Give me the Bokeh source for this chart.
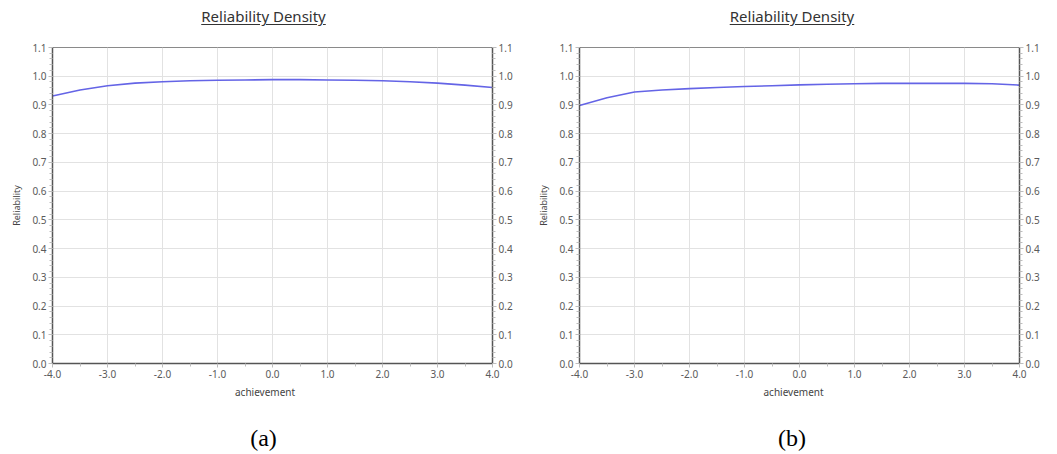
from bokeh.plotting import figure
from bokeh.layouts import row, column
from bokeh.models import (LinearAxis, FixedTicker, Title, Div,
                          PrintfTickFormatter)
from bokeh.embed import file_html
from bokeh.resources import INLINE

# Reliability curves over the achievement scale
theta = [-4.0, -3.5, -3.0, -2.5, -2.0, -1.5, -1.0, -0.5, 0.0,
         0.5, 1.0, 1.5, 2.0, 2.5, 3.0, 3.5, 4.0]
rel_a = [0.931, 0.952, 0.967, 0.976, 0.981, 0.984, 0.986, 0.987, 0.988,
         0.988, 0.987, 0.986, 0.984, 0.981, 0.976, 0.969, 0.961]
rel_b = [0.898, 0.925, 0.945, 0.952, 0.957, 0.961, 0.964, 0.967, 0.970,
         0.972, 0.974, 0.975, 0.975, 0.975, 0.975, 0.974, 0.969]

x_ticks = [-4, -3, -2, -1, 0, 1, 2, 3, 4]
y_ticks = [0.0, 0.1, 0.2, 0.3, 0.4, 0.5, 0.6, 0.7, 0.8, 0.9, 1.0, 1.1]
y_minor = [round(i * 0.02, 2) for i in range(0, 56)]
x_minor = [-3.5, -2.5, -1.5, -0.5, 0.5, 1.5, 2.5, 3.5]

heading = "Reliability Density"
x_title = "achievement"
y_title = "Reliability"
captions = ["(a)", "(b)"]

TXT = "#5a5a5a"
FONT = "Noto Sans"

# layout geometry (pixels)
HEAD_H = 40       # heading strip
FIG_H = 370       # chart strip
CAP_H = 44        # caption strip
LEFT = 52
FRAME_W = 440


def head_div(width):
    html = ('<div style="width:%dpx;text-align:center;font-family:\'Noto Sans\';'
            'font-size:15px;color:#333333;padding-top:6px;'
            'text-decoration:underline;text-underline-offset:2px;">%s</div>'
            % (width, heading))
    return Div(text=html, width=width, height=HEAD_H, margin=(0, 0, 0, 0))


def cap_div(width, caption):
    html = ('<div style="width:%dpx;text-align:center;'
            'font-family:\'Liberation Serif\';font-size:24px;color:#000000;'
            'padding-top:11px;">%s</div>' % (width, caption))
    return Div(text=html, width=width, height=CAP_H, margin=(0, 0, 0, 0))


def panel(values, width):
    p = figure(width=width, height=FIG_H, x_range=(-4, 4), y_range=(0, 1.1),
               output_backend="svg", toolbar_location=None,
               min_border_left=LEFT, min_border_right=width - LEFT - FRAME_W,
               min_border_top=7, min_border_bottom=FIG_H - 316 - 7)
    p.xaxis.visible = False
    p.yaxis.visible = False
    p.outline_line_color = "#8a8a8a"
    p.outline_line_width = 1

    bx = LinearAxis(ticker=FixedTicker(ticks=x_ticks, minor_ticks=x_minor))
    ly = LinearAxis(ticker=FixedTicker(ticks=y_ticks, minor_ticks=y_minor),
                    axis_label=y_title)
    ry = LinearAxis(ticker=FixedTicker(ticks=y_ticks, minor_ticks=y_minor))
    for ax in (bx, ly, ry):
        ax.formatter = PrintfTickFormatter(format="%.1f")
        ax.axis_line_color = "#555555"
        ax.axis_line_width = 1.5
        ax.major_tick_line_color = "#bdbdbd"
        ax.minor_tick_line_color = "#bdbdbd"
        ax.major_tick_out = 4
        ax.major_tick_in = 0
        ax.minor_tick_out = 3
        ax.minor_tick_in = 0
        ax.major_label_text_font = FONT
        ax.major_label_text_font_size = "10px"
        ax.major_label_text_color = TXT
        ax.major_label_standoff = 2
        ax.axis_label_text_font = FONT
        ax.axis_label_text_font_size = "9px"
        ax.axis_label_text_font_style = "normal"
        ax.axis_label_text_color = "#444444"
        ax.axis_label_standoff = 6
    p.add_layout(bx, "below")
    p.add_layout(ly, "left")
    p.add_layout(ry, "right")

    # x-axis title, centred under the whole panel
    p.add_layout(Title(text=x_title, align="left", offset=width / 2 - LEFT - 29,
                       text_font=FONT, text_font_size="10px",
                       text_font_style="normal", text_color="#444444",
                       standoff=4), "below")

    p.xgrid.ticker = FixedTicker(ticks=x_ticks)
    p.ygrid.ticker = FixedTicker(ticks=y_ticks)
    p.xgrid.grid_line_color = "#e2e2e2"
    p.ygrid.grid_line_color = "#e2e2e2"

    p.line(theta, values, line_color="#6464e6", line_width=1.6)
    return p


widths = [527, 530]
layout = column(
    row(head_div(widths[0]), head_div(widths[1])),
    row(panel(rel_a, widths[0]), panel(rel_b, widths[1])),
    row(cap_div(widths[0], captions[0]), cap_div(widths[1], captions[1])),
)
open("out.html", "w").write(file_html(layout, INLINE))
